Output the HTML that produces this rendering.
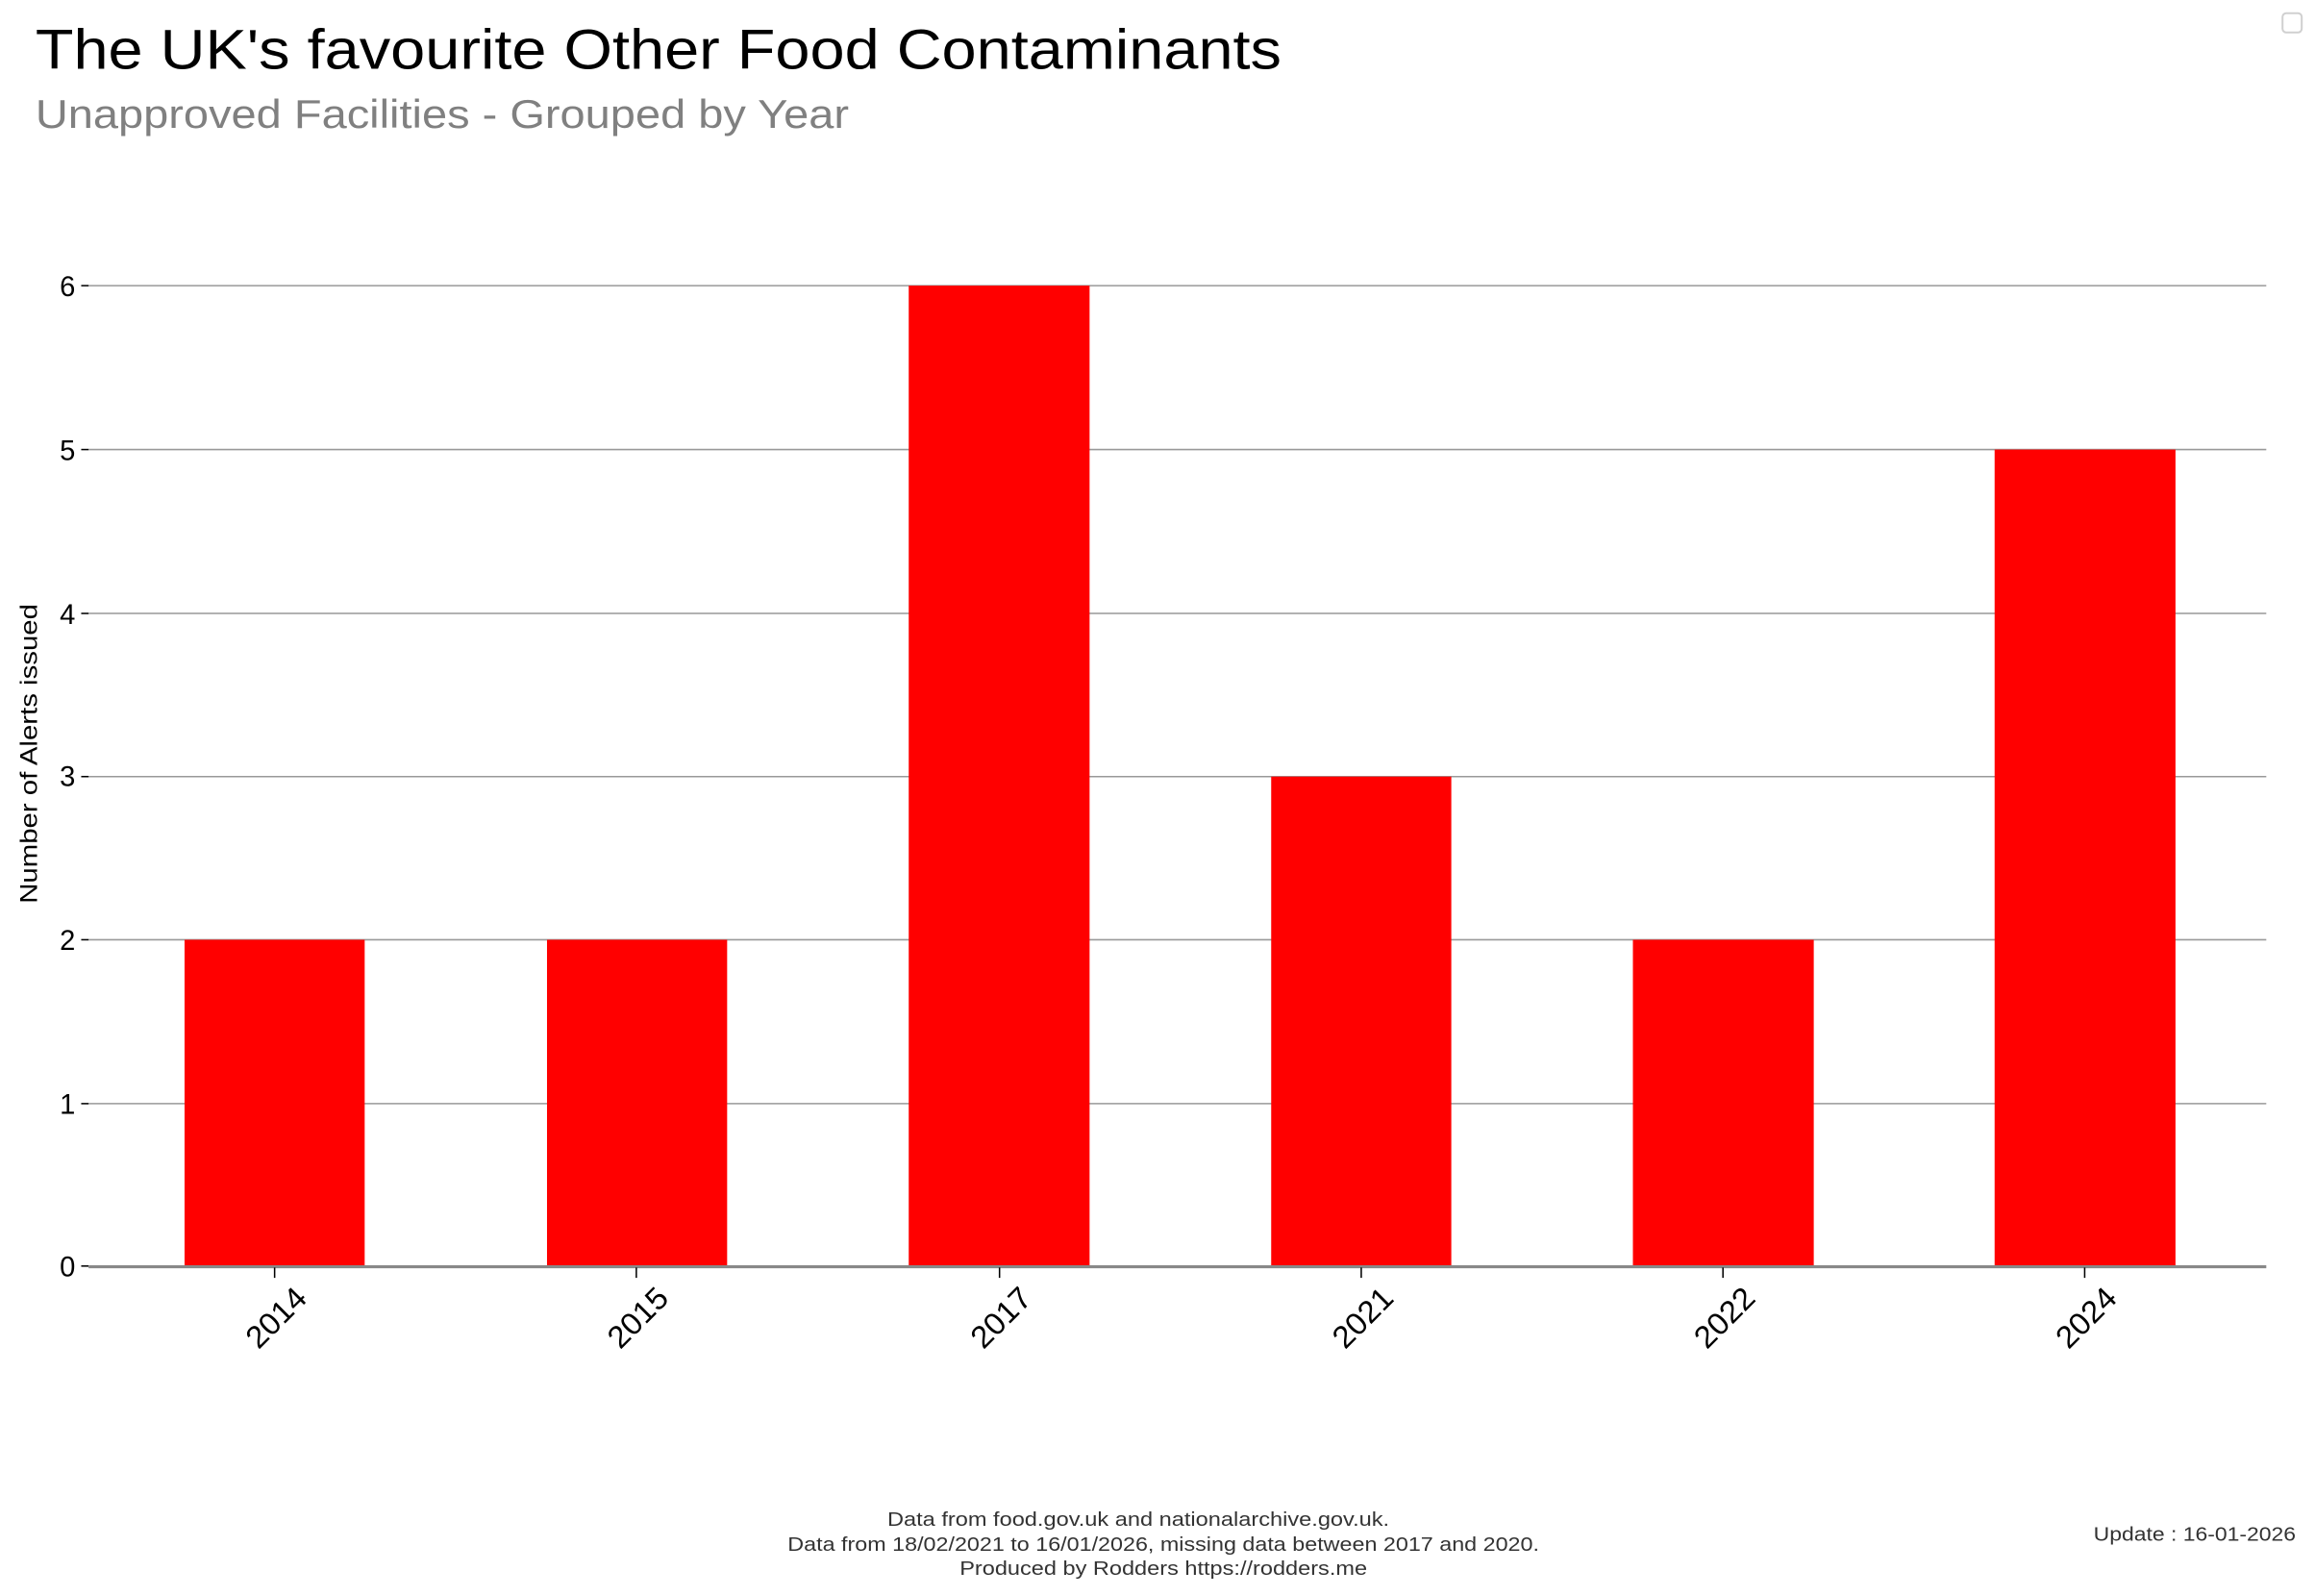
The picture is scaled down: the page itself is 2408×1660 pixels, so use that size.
<!DOCTYPE html>
<html><head><meta charset="utf-8"><style>
html,body{margin:0;padding:0;background:#fff;width:2408px;height:1660px;overflow:hidden}
svg{display:block}
text{font-family:"Liberation Sans","DejaVu Sans",sans-serif}
</style></head><body>
<svg width="2408" height="1660" viewBox="0 0 1568 1080" xmlns="http://www.w3.org/2000/svg">
<rect width="1568" height="1080" fill="#fff"/>
<text x="24" y="46" font-size="38" fill="#000" textLength="844" lengthAdjust="spacingAndGlyphs">The UK's favourite Other Food Contaminants</text>
<text x="24" y="86" font-size="27" fill="#808080" textLength="551" lengthAdjust="spacingAndGlyphs">Unapproved Facilities - Grouped by Year</text>
<rect x="1546" y="8.5" width="13" height="13" rx="2.5" fill="none" stroke="#d0d0d0" stroke-width="1.3"/>
<g stroke="#999" stroke-width="1">
<line x1="60" x2="1535" y1="193" y2="193"/>
<line x1="60" x2="1535" y1="304" y2="304"/>
<line x1="60" x2="1535" y1="415" y2="415"/>
<line x1="60" x2="1535" y1="525.5" y2="525.5"/>
<line x1="60" x2="1535" y1="636" y2="636"/>
<line x1="60" x2="1535" y1="747" y2="747"/>
</g>
<g stroke="#000" stroke-width="1">
<line x1="55" x2="60" y1="193" y2="193"/><line x1="55" x2="60" y1="304" y2="304"/>
<line x1="55" x2="60" y1="415" y2="415"/><line x1="55" x2="60" y1="525.5" y2="525.5"/>
<line x1="55" x2="60" y1="636" y2="636"/><line x1="55" x2="60" y1="747" y2="747"/>
<line x1="55" x2="60" y1="857" y2="857"/>
</g>
<g font-size="19" fill="#000" text-anchor="end">
<text x="51" y="200">6</text><text x="51" y="311">5</text><text x="51" y="422">4</text>
<text x="51" y="532">3</text><text x="51" y="643">2</text><text x="51" y="754">1</text>
<text x="51" y="864">0</text>
</g>
<g fill="#ff0000">
<rect x="125" y="636" width="122" height="221"/>
<rect x="370.5" y="636" width="122" height="221"/>
<rect x="615.5" y="193" width="122.5" height="664"/>
<rect x="861" y="525.5" width="122" height="331.5"/>
<rect x="1106" y="636" width="122.5" height="221"/>
<rect x="1351" y="304" width="122.5" height="553"/>
</g>
<line x1="60" x2="1535" y1="857.5" y2="857.5" stroke="#888" stroke-width="2"/>
<g stroke="#000" stroke-width="1">
<line x1="186" x2="186" y1="858" y2="865"/><line x1="431" x2="431" y1="858" y2="865"/>
<line x1="677" x2="677" y1="858" y2="865"/><line x1="922" x2="922" y1="858" y2="865"/>
<line x1="1167" x2="1167" y1="858" y2="865"/><line x1="1412" x2="1412" y1="858" y2="865"/>
</g>
<g font-size="21" fill="#000" text-anchor="end">
<text transform="translate(209,880) rotate(-45)" textLength="48" lengthAdjust="spacingAndGlyphs">2014</text>
<text transform="translate(454,880) rotate(-45)" textLength="48" lengthAdjust="spacingAndGlyphs">2015</text>
<text transform="translate(700,880) rotate(-45)" textLength="48" lengthAdjust="spacingAndGlyphs">2017</text>
<text transform="translate(945,880) rotate(-45)" textLength="48" lengthAdjust="spacingAndGlyphs">2021</text>
<text transform="translate(1190,880) rotate(-45)" textLength="48" lengthAdjust="spacingAndGlyphs">2022</text>
<text transform="translate(1435,880) rotate(-45)" textLength="48" lengthAdjust="spacingAndGlyphs">2024</text>
</g>
<text transform="translate(25,510) rotate(-90)" font-size="16" fill="#000" text-anchor="middle" textLength="203" lengthAdjust="spacingAndGlyphs">Number of Alerts issued</text>
<g font-size="13.5" fill="#333" text-anchor="middle">
<text x="771" y="1033" textLength="340" lengthAdjust="spacingAndGlyphs">Data from food.gov.uk and nationalarchive.gov.uk.</text>
<text x="788" y="1050" textLength="509" lengthAdjust="spacingAndGlyphs">Data from 18/02/2021 to 16/01/2026, missing data between 2017 and 2020.</text>
<text x="788" y="1066" textLength="276" lengthAdjust="spacingAndGlyphs">Produced by Rodders https://rodders.me</text>
</g>
<text x="1555" y="1043" font-size="13.5" fill="#333" text-anchor="end" textLength="137" lengthAdjust="spacingAndGlyphs">Update : 16-01-2026</text>
</svg>
</body></html>
